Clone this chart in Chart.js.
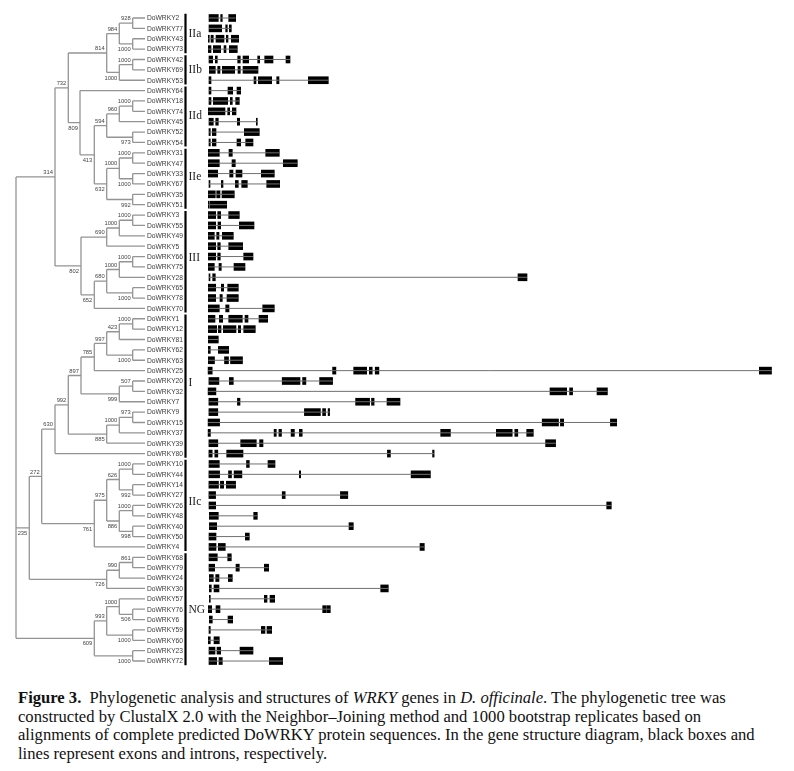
<!DOCTYPE html>
<html>
<head>
<meta charset="utf-8">
<script src="https://cdn.jsdelivr.net/npm/chart.js@4.4.1/dist/chart.umd.min.js"></script>
<style>
  body { margin: 0; background: #fff; }
  #wrap { width: 794px; height: 680px; }
  .caption {
    font-family: "Liberation Serif", "DejaVu Serif", serif;
    font-size: 16.6px;
    line-height: 18.6px;
    color: #111;
    padding-left: 18px;
    margin-top: 9px;
    white-space: nowrap;
  }
</style>
</head>
<body>
<div id="wrap"><canvas id="wrkyChart" width="794" height="680"></canvas></div>
<div class="caption"><b>Figure 3.</b>&nbsp; Phylogenetic analysis and structures of <i>WRKY</i> genes in <i>D. officinale</i>. The phylogenetic tree was<br>constructed by ClustalX 2.0 with the Neighbor–Joining method and 1000 bootstrap replicates based on<br>alignments of complete predicted DoWRKY protein sequences. In the gene structure diagram, black boxes and<br>lines represent exons and introns, respectively.</div>
<script>
// Gene order, top to bottom
const geneNames = [
  'DoWRKY2', 'DoWRKY77', 'DoWRKY43', 'DoWRKY73', 'DoWRKY42', 'DoWRKY69', 'DoWRKY53',
  'DoWRKY64', 'DoWRKY18', 'DoWRKY74', 'DoWRKY45', 'DoWRKY52', 'DoWRKY54',
  'DoWRKY31', 'DoWRKY47', 'DoWRKY33', 'DoWRKY67', 'DoWRKY35', 'DoWRKY51',
  'DoWRKY3', 'DoWRKY55', 'DoWRKY49', 'DoWRKY5', 'DoWRKY66', 'DoWRKY75', 'DoWRKY28',
  'DoWRKY65', 'DoWRKY78', 'DoWRKY70',
  'DoWRKY1', 'DoWRKY12', 'DoWRKY81', 'DoWRKY62', 'DoWRKY63', 'DoWRKY25', 'DoWRKY20',
  'DoWRKY32', 'DoWRKY7', 'DoWRKY9', 'DoWRKY15', 'DoWRKY37', 'DoWRKY39', 'DoWRKY80',
  'DoWRKY10', 'DoWRKY44', 'DoWRKY14', 'DoWRKY27', 'DoWRKY26', 'DoWRKY48', 'DoWRKY40',
  'DoWRKY50', 'DoWRKY4',
  'DoWRKY68', 'DoWRKY79', 'DoWRKY24', 'DoWRKY30', 'DoWRKY57', 'DoWRKY76', 'DoWRKY6',
  'DoWRKY59', 'DoWRKY60', 'DoWRKY23', 'DoWRKY72'
];

// Exon [start, end] per gene (same order as geneNames), in diagram length units
const exons = [
  [[1, 10.3], [12.7, 14.3], [20.7, 27.7]],
  [[1, 13.7], [17.7, 19.3], [21.3, 23.3]],
  [[0.3, 1.3], [3, 5.3], [8, 16], [18.3, 20], [23.3, 30.7]],
  [[0.3, 3], [5.3, 12.7], [16, 18], [21.3, 29.3]],
  [[1, 4.7], [7.3, 9.3], [29.7, 32.3], [35, 40.7], [49.7, 51.7], [56.7, 65], [78, 82]],
  [[1.3, 7.3], [9.7, 12], [14.3, 26.7], [30, 32.3], [35, 50]],
  [[1, 3], [46, 48], [50.3, 63.7], [68.7, 71], [100.3, 120.3]],
  [[1, 3], [20, 24.7], [29, 32.7]],
  [[1, 3], [5.3, 19.7], [22.3, 24.3], [27.7, 31.3]],
  [[0.3, 17], [19.7, 21.7], [24.3, 28]],
  [[1, 5.3], [7.7, 10.3], [29.3, 31.7], [48.3, 49.3]],
  [[1, 2.3], [4.3, 8], [36.3, 51.3]],
  [[1, 2.3], [4.3, 8], [29, 32.7], [37.7, 45]],
  [[0.3, 11.3], [21, 24.3], [57.7, 71.3]],
  [[0.3, 11.3], [24, 27.3], [75.3, 89.3]],
  [[0.3, 9.7], [21.7, 25], [28, 34], [53.3, 66.3]],
  [[1, 2], [13.3, 15], [27.3, 30.3], [33.7, 39.3], [58.7, 71.7]],
  [[0.3, 7.3], [8.7, 12], [14, 26.3]],
  [[0.3, 1.3], [2.3, 18.7]],
  [[0.3, 7.7], [9.7, 12.7], [20.7, 31.3]],
  [[0.3, 7.7], [10, 12.7], [31.3, 46]],
  [[0.3, 6.3], [8.7, 11], [14.3, 25.3]],
  [[0.3, 7.7], [9.7, 12.3], [20.7, 34.7]],
  [[0.3, 7.7], [9.7, 12.3], [35.7, 45]],
  [[0.3, 6.3], [11, 13.3], [26, 37]],
  [[1, 2], [4.7, 7.3], [310, 319]],
  [[0.3, 7.7], [13.3, 15.7], [19.7, 30.3]],
  [[0.3, 7.7], [12, 14.3], [19, 30.3]],
  [[0.3, 11.3], [17.7, 21], [54.7, 66.3]],
  [[0.3, 7], [11.3, 14.7], [20.7, 34.3], [37, 40], [51, 59.7]],
  [[0.3, 8.7], [10.3, 13], [15.3, 28], [30.3, 32.7], [35.7, 47.3]],
  [[0.3, 10.3]],
  [[0.3, 2.3], [10.3, 20.7]],
  [[0.3, 6.5], [16.5, 20.5], [22.5, 34.5]],
  [[0.1, 4.2], [124.6, 127.9], [145.7, 158.7], [161.3, 164.2], [167.2, 170.9], [551.3, 563.5]],
  [[0.9, 10.9], [21.3, 25.3], [74.2, 92], [94.6, 97.9], [111.6, 124.6]],
  [[0.1, 7.9], [342, 358.7], [361.6, 364.6], [389, 399.4]],
  [[0.9, 9.8], [29.4, 32], [147.6, 161.6], [163.5, 166.1], [179, 192]],
  [[0.9, 9.8], [96.4, 112.4], [114.6, 117.6], [120.1, 121.6]],
  [[0.1, 11.6], [334.2, 350.5], [352.4, 355.7], [402.4, 408.7]],
  [[0.1, 2.4], [66.1, 68.3], [70.9, 73.5], [83.1, 86.4], [91.3, 94.2], [232.7, 242.4], [288.3, 304.2], [306.8, 309.8], [318.7, 325.3]],
  [[0.9, 9.8], [32.7, 48.3], [51.6, 55], [337.6, 347.6]],
  [[0.9, 4.2], [6.8, 9.8], [18.7, 35], [179.4, 182.4], [224.6, 226.1]],
  [[1, 11.3], [38.5, 41.3], [60, 67]],
  [[0.9, 11.6], [20.5, 23.5], [26.1, 33.9], [91.3, 92.7], [203.1, 222.4]],
  [[0.9, 10.5], [12.4, 15.7], [18.3, 27.6]],
  [[0.9, 7.6], [74.2, 77.2], [132.4, 139.8]],
  [[1, 7.7], [398.7, 403.3]],
  [[1.3, 10.3], [45.7, 49.3]],
  [[1.3, 8.7], [141, 145.3]],
  [[1, 8], [37.3, 41.3]],
  [[1, 8], [10.3, 17.3], [212, 216.3]],
  [[1, 9.3], [19.7, 23.3]],
  [[1, 6.7], [28, 31.3], [56.3, 60.7]],
  [[1.3, 5.3], [7.7, 11], [20.3, 24.3]],
  [[1.3, 3.3], [6, 11], [172.7, 180.3]],
  [[1.3, 2.3], [56.3, 59], [62, 66.7]],
  [[0.3, 3.7], [8, 12], [114.7, 118], [118.7, 122.3]],
  [[1.3, 4.3], [20, 24.7]],
  [[1, 2.3], [53.3, 57], [59, 63.7]],
  [[0.3, 2.3], [6, 11.3]],
  [[1, 7], [9, 12.7], [32, 45]],
  [[1, 8.7], [11, 14.3], [61.3, 74.7]]
];

// Neighbor-joining tree, newick style: (children)bootstrap:nodeDepth
const treeGroupA = '((((DoWRKY2,DoWRKY77)928:132.7,(DoWRKY43,DoWRKY73)1000:132.7)984:119.3,' +
  '((DoWRKY42,DoWRKY69)1000:132.7,DoWRKY53)1000:119.3)814:106.7,' +
  '(DoWRKY64,((((DoWRKY18,DoWRKY74)1000:132.7,DoWRKY45)960:119.3,(DoWRKY52,DoWRKY54)973:132.7)594:106.7,' +
  '(((DoWRKY31,DoWRKY47)1000:132.7,(DoWRKY33,DoWRKY67)1000:132.7)1000:119.3,(DoWRKY35,DoWRKY51)992:132.7)632:106.7)413:94.3)809:80)732:68.3';
const treeGroupIII = '((((DoWRKY3,DoWRKY55)1000:132.7,DoWRKY49)1000:119.3,DoWRKY5)690:106.7,' +
  '((((DoWRKY66,DoWRKY75)1000:132.7,DoWRKY28)1000:119.3,(DoWRKY65,DoWRKY78)1000:132.7)680:106.7,DoWRKY70)652:94.3)802:81';
const treeGroupI = '(((((((DoWRKY1,DoWRKY12)1000:132.7,DoWRKY81)423:119.3,(DoWRKY62,DoWRKY63)1000:132.7)997:106.7,DoWRKY25)785:94.3,' +
  '((DoWRKY20,DoWRKY32)507:132.7,DoWRKY7)999:119.3)897:81,' +
  '(((DoWRKY9,DoWRKY15)973:132.7,DoWRKY37)1000:119.3,DoWRKY39)885:106.7)992:68.3,DoWRKY80)630:55';
const treeGroupIIc = '((((DoWRKY10,DoWRKY44)1000:132.7,(DoWRKY14,DoWRKY27)992:132.7)626:119.3,' +
  '((DoWRKY26,DoWRKY48)1000:132.7,(DoWRKY40,DoWRKY50)998:132.7)886:119.3)975:106.7,DoWRKY4)761:94.3';
const treeGroupNG1 = '(((DoWRKY68,DoWRKY79)861:132.7,DoWRKY24)990:119.3,DoWRKY30)726:106.7';
const treeGroupNG2 = '(((DoWRKY57,(DoWRKY76,DoWRKY6)506:132.7)1000:119.3,(DoWRKY59,DoWRKY60)1000:132.7)993:106.7,' +
  '(DoWRKY23,DoWRKY72)1000:132.7)609:94.3';
const treeNewick = '((' + treeGroupA + ',' + treeGroupIII + ')314:55,' +
  '((' + treeGroupI + ',' + treeGroupIIc + ')272:41.7,' + treeGroupNG1 + ')235:29.3,' +
  treeGroupNG2 + '):16';

// Subfamily brackets
const cladeNames = ['IIa', 'IIb', 'IId', 'IIe', 'III', 'I', 'IIc', 'NG'];
const cladeFirst = ['DoWRKY2', 'DoWRKY42', 'DoWRKY64', 'DoWRKY31', 'DoWRKY3', 'DoWRKY1', 'DoWRKY10', 'DoWRKY68'];
const cladeLast = ['DoWRKY73', 'DoWRKY53', 'DoWRKY54', 'DoWRKY51', 'DoWRKY70', 'DoWRKY80', 'DoWRKY4', 'DoWRKY72'];
const cladeLabelRow = [1.5, 5, 9.4, 15.3, 23.1, 35.2, 46.7, 57.1];

const tipDepth = 145;
const cladeBarX = 185.5;

function parseNewick(s) {
  let i = 0;
  function node() {
    const n = { children: [] };
    if (s[i] === '(') {
      i++;
      n.children.push(node());
      while (s[i] === ',') { i++; n.children.push(node()); }
      i++;
    }
    let label = '';
    while (i < s.length && !',():'.includes(s[i])) label += s[i++];
    n.label = label;
    if (s[i] === ':') {
      i++;
      let d = '';
      while (i < s.length && !',()'.includes(s[i])) d += s[i++];
      n.depth = +d;
    }
    return n;
  }
  return node();
}

function placeNodes(n) {
  if (!n.children.length) {
    n.row = geneNames.indexOf(n.label);
    n.depth = tipDepth;
    return;
  }
  n.children.forEach(placeNodes);
  n.row = (n.children[0].row + n.children[n.children.length - 1].row) / 2;
}

const tree = parseNewick(treeNewick);
placeNodes(tree);

// branch segments and bootstrap labels
const treePoints = [];
const supportLabels = [];
function collect(n) {
  if (!n.children.length) return;
  const first = n.children[0], last = n.children[n.children.length - 1];
  treePoints.push({ x: n.depth, y: first.row }, { x: n.depth, y: last.row }, { x: null, y: null });
  n.children.forEach((c, k) => {
    treePoints.push({ x: n.depth, y: c.row }, { x: c.depth, y: c.row }, { x: null, y: null });
    if (c.children.length && c.label) {
      supportLabels.push({ text: c.label, depth: c.depth, row: c.row, above: k === 0 });
    }
    collect(c);
  });
}
collect(tree);

const exonBars = [];
const intronPoints = [];
exons.forEach((list, row) => {
  list.forEach(e => exonBars.push({ x: e, y: row }));
  intronPoints.push({ x: list[0][0], y: row }, { x: list[list.length - 1][1], y: row }, { x: null, y: null });
});

const cladePoints = [];
cladeNames.forEach((c, k) => {
  cladePoints.push({ x: cladeBarX, y: geneNames.indexOf(cladeFirst[k]) - 0.4 },
    { x: cladeBarX, y: geneNames.indexOf(cladeLast[k]) + 0.4 }, { x: null, y: null });
});

const treeText = {
  id: 'treeText',
  afterDatasetsDraw(chart) {
    const { ctx } = chart;
    const x = chart.scales.x, y = chart.scales.y;
    ctx.save();
    ctx.textBaseline = 'middle';
    ctx.textAlign = 'left';
    ctx.fillStyle = '#3a3a3a';
    ctx.font = '6.7px "Liberation Sans", Arial, sans-serif';
    geneNames.forEach((g, i) => {
      ctx.fillText(g, x.getPixelForValue(tipDepth) + 2, y.getPixelForValue(i) + 0.5);
    });
    ctx.textAlign = 'right';
    ctx.fillStyle = '#444';
    ctx.font = '5.8px "Liberation Sans", Arial, sans-serif';
    supportLabels.forEach(s => {
      ctx.fillText(s.text, x.getPixelForValue(s.depth) - 2, y.getPixelForValue(s.row) + (s.above ? -4.5 : 5.5));
    });
    ctx.textAlign = 'left';
    ctx.fillStyle = '#222';
    ctx.font = '11.5px "Liberation Serif", serif';
    cladeNames.forEach((c, k) => {
      ctx.fillText(c, x.getPixelForValue(cladeBarX) + 3, y.getPixelForValue(cladeLabelRow[k]));
    });
    ctx.restore();
  }
};

const wrkyCtx = document.getElementById('wrkyChart').getContext('2d');
const wrkyChart = new Chart(wrkyCtx, {
  type: 'bar',
  data: {
    datasets: [
      {
        type: 'line', label: 'tree', data: treePoints,
        xAxisID: 'x', yAxisID: 'y',
        borderColor: '#949494', borderWidth: 1.3, pointRadius: 0, spanGaps: false, tension: 0
      },
      {
        type: 'line', label: 'introns', data: intronPoints,
        xAxisID: 'xg', yAxisID: 'y',
        borderColor: '#707070', borderWidth: 1, pointRadius: 0, spanGaps: false, tension: 0
      },
      {
        type: 'bar', label: 'exons', data: exonBars,
        xAxisID: 'xg', yAxisID: 'y', indexAxis: 'y',
        backgroundColor: '#000', barThickness: 7, grouped: false, borderWidth: 0
      },
      {
        type: 'line', label: 'clades', data: cladePoints,
        xAxisID: 'x', yAxisID: 'y',
        borderColor: '#000', borderWidth: 2.2, pointRadius: 0, spanGaps: false, tension: 0
      }
    ]
  },
  options: {
    responsive: false,
    animation: false,
    layout: { padding: 0 },
    plugins: {
      legend: { display: false },
      tooltip: { enabled: false }
    },
    scales: {
      x: { type: 'linear', display: false, offset: false, min: 0, max: 794 },
      xg: { type: 'linear', axis: 'x', display: false, offset: false, min: -208, max: 586 },
      y: { type: 'linear', display: false, offset: false, reverse: true, min: -1.736, max: 63.83 }
    }
  },
  plugins: [treeText]
});
</script>
</body>
</html>
